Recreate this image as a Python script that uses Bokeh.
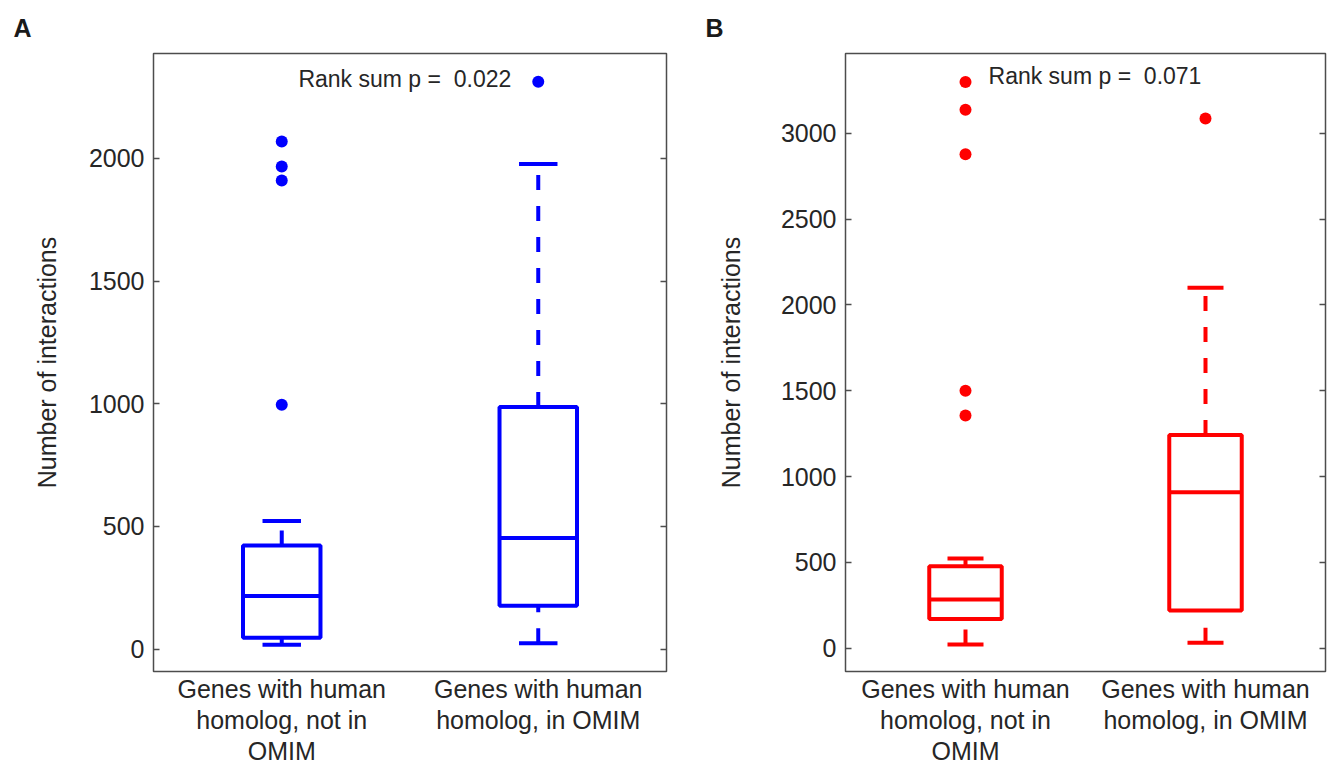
from bokeh.plotting import figure
from bokeh.models import Range1d, LinearAxis, FixedTicker, Label
from bokeh.layouts import row
from bokeh.embed import file_html
from bokeh.resources import INLINE

FONT = "Liberation Sans"
TXT = "#262626"
FRAME = "#4d4d4d"

# ---------------- data ----------------
categories = ["Genes with human\nhomolog, not in\nOMIM", "Genes with human\nhomolog, in OMIM"]
cat_pos = [1, 2]

# Panel A (blue)
a_q1 = [47, 177]
a_median = [217, 453]
a_q3 = [422, 987]
a_lower = [18, 24]
a_upper = [522, 1977]
a_out_x = [1, 1, 1, 1, 2]
a_out_y = [2068, 1967, 1910, 996, 2312]
a_pval = "0.022"
a_yticks = [0, 500, 1000, 1500, 2000]

# Panel B (red)
b_q1 = [170, 220]
b_median = [283, 909]
b_q3 = [477, 1242]
b_lower = [21, 31]
b_upper = [523, 2100]
b_out_x = [1, 1, 1, 1, 1, 2]
b_out_y = [3299, 3137, 2878, 1500, 1355, 3086]
b_pval = "0.071"
b_yticks = [0, 500, 1000, 1500, 2000, 2500, 3000]


def panel(letter, q1, med, q3, lo, hi, out_x, out_y, pval, color, yr, yticks,
          width, bl, br, ylab_standoff, ptx, pty):
    p = figure(width=width, height=767, x_range=Range1d(0.5, 2.5), y_range=Range1d(*yr),
               output_backend="svg", toolbar_location=None,
               min_border_left=bl, min_border_right=br, min_border_top=53, min_border_bottom=95,
               background_fill_color="white", border_fill_color="white")
    p.grid.visible = False
    p.outline_line_color = FRAME
    p.outline_line_width = 1.5
    p.outline_line_alpha = 1.0

    # panel letter as title
    p.title.text = letter
    p.title.align = "left"
    p.title.offset = -140
    p.title.standoff = 23
    p.title.text_font = FONT
    p.title.text_font_size = "25px"
    p.title.text_font_style = "bold"
    p.title.text_color = "#1a1a1a"

    # x axis: categories
    xa = p.xaxis[0]
    xa.ticker = FixedTicker(ticks=cat_pos)
    xa.major_label_overrides = {pos: cat for pos, cat in zip(cat_pos, categories)}
    xa.major_tick_in = 0
    xa.major_tick_out = 0
    xa.minor_tick_line_color = None
    xa.axis_line_color = None
    xa.major_tick_line_color = None
    xa.major_label_standoff = 3
    xa.major_label_text_font = FONT
    xa.major_label_text_font_size = "25px"
    xa.major_label_text_color = TXT
    xa.major_label_text_line_height = 1.11

    # y axis
    ax = p.yaxis[0]
    ax.ticker = FixedTicker(ticks=yticks)
    ax.major_tick_in = 6
    ax.major_tick_out = 0
    ax.minor_tick_line_color = None
    ax.axis_line_color = None
    ax.major_tick_line_color = FRAME
    ax.major_tick_line_width = 1.5
    ax.major_label_text_font = FONT
    ax.major_label_text_font_size = "25px"
    ax.major_label_text_color = TXT
    ax.major_label_standoff = 9
    ax.axis_label = "Number of interactions"
    ax.axis_label_text_font = FONT
    ax.axis_label_text_font_size = "25px"
    ax.axis_label_text_font_style = "normal"
    ax.axis_label_text_color = TXT
    ax.axis_label_standoff = ylab_standoff

    rax = LinearAxis(ticker=FixedTicker(ticks=yticks), major_tick_in=6, major_tick_out=0,
                     minor_tick_line_color=None, axis_line_color=None,
                     major_tick_line_color=FRAME, major_tick_line_width=1.5,
                     major_label_overrides={t: "" for t in yticks}, major_label_standoff=0)
    p.add_layout(rax, "right")

    half, cap = 0.151, 0.075
    left = [x - half for x in cat_pos]
    right = [x + half for x in cat_pos]
    cl = [x - cap for x in cat_pos]
    cr = [x + cap for x in cat_pos]

    p.segment(x0=cat_pos, y0=q3, x1=cat_pos, y1=hi, line_color=color, line_width=4, line_dash="15 16")
    p.segment(x0=cat_pos, y0=lo, x1=cat_pos, y1=q1, line_color=color, line_width=4, line_dash="15 16")
    p.quad(left=left, right=right, bottom=q1, top=q3, fill_color=None, line_color=color, line_width=4)
    p.segment(x0=left, y0=med, x1=right, y1=med, line_color=color, line_width=4)
    p.segment(x0=cl, y0=hi, x1=cr, y1=hi, line_color=color, line_width=4)
    p.segment(x0=cl, y0=lo, x1=cr, y1=lo, line_color=color, line_width=4)
    p.scatter(out_x, out_y, size=12, color=color, line_width=0)

    p.add_layout(Label(x=ptx, y=pty, text=f"Rank sum p = \u00a0{pval}", text_font=FONT,
                       text_font_size="23px", text_color=TXT, text_align="left",
                       text_baseline="alphabetic"))
    return p


pa = panel("A", a_q1, a_median, a_q3, a_lower, a_upper, a_out_x, a_out_y, a_pval, "#0000ff",
           (-91, 2427), a_yticks, 700, 153, 34, 25, 1.065, 2325)
pb = panel("B", b_q1, b_median, b_q3, b_lower, b_upper, b_out_x, b_out_y, b_pval, "#ff0000",
           (-136, 3465), b_yticks, 627, 145, 2, 33, 1.096, 3332)

layout = row(pa, pb)
open("out.html", "w").write(file_html(layout, INLINE))
